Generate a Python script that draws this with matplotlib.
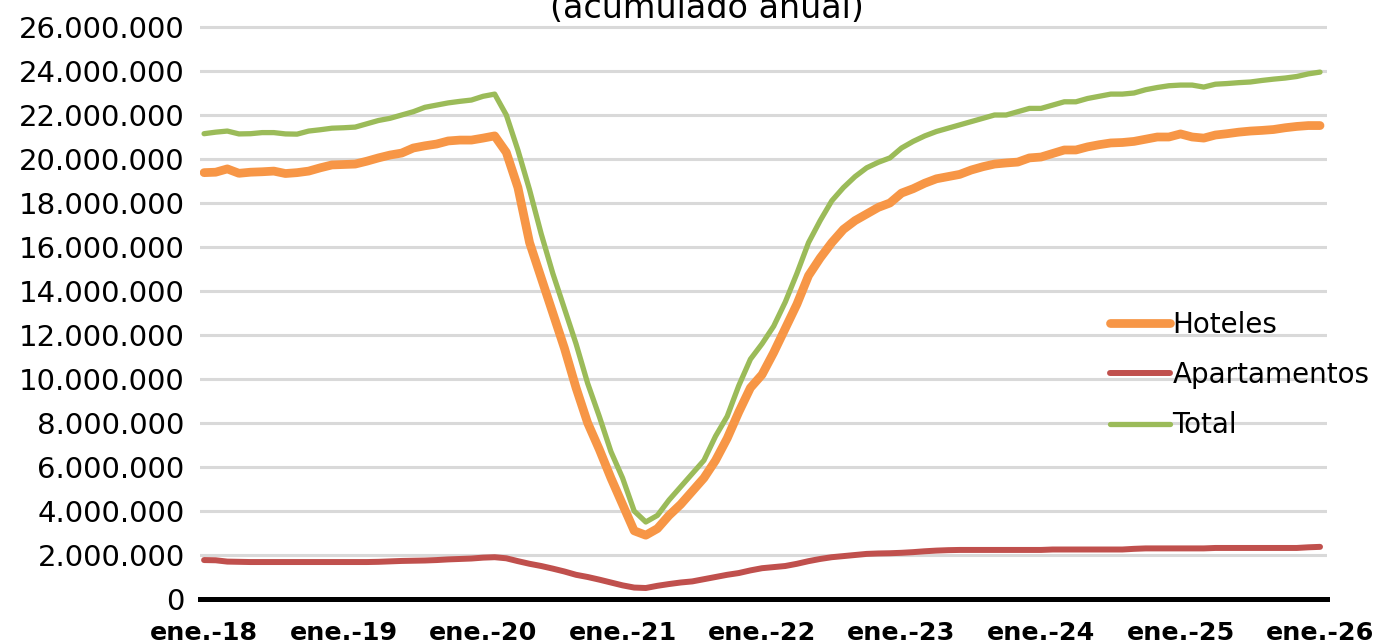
import matplotlib
matplotlib.use("Agg")
import matplotlib.pyplot as plt
import numpy as np

# Monthly annual-accumulated values, ene-18 ... ene-26 (millions)
hoteles = [
    19.38, 19.40, 19.55, 19.35, 19.40, 19.42, 19.45, 19.34, 19.38, 19.45, 19.60, 19.73,
    19.75, 19.77, 19.90, 20.05, 20.18, 20.27, 20.50, 20.60, 20.68, 20.82, 20.86, 20.86,
    20.95, 21.05, 20.30, 18.70, 16.20, 14.60, 13.00, 11.40, 9.60, 8.00, 6.80, 5.50,
    4.30, 3.10, 2.90, 3.20, 3.80, 4.30, 4.90, 5.50, 6.30, 7.30, 8.50, 9.60,
    10.20, 11.20, 12.30, 13.40, 14.70, 15.50, 16.20, 16.80, 17.20, 17.50, 17.80, 18.00,
    18.45, 18.65, 18.90, 19.10, 19.20, 19.30, 19.50, 19.65, 19.77, 19.82, 19.86, 20.05,
    20.09, 20.25, 20.41, 20.41, 20.55, 20.65, 20.73, 20.75, 20.80, 20.90, 21.00, 21.00,
    21.14, 21.00, 20.95, 21.09, 21.15, 21.22, 21.27, 21.30, 21.34, 21.42, 21.48, 21.52,
    21.52,
]
apartamentos = [
    1.77, 1.76, 1.70, 1.69, 1.68, 1.68, 1.68, 1.68, 1.68, 1.68, 1.68, 1.68,
    1.68, 1.68, 1.68, 1.69, 1.71, 1.73, 1.74, 1.75, 1.77, 1.80, 1.82, 1.84,
    1.88, 1.90, 1.85, 1.72, 1.60, 1.50, 1.38, 1.25, 1.10, 1.00, 0.88, 0.75,
    0.62, 0.52, 0.50, 0.60, 0.68, 0.75, 0.80, 0.90, 1.00, 1.10, 1.18, 1.30,
    1.40, 1.45, 1.50, 1.60, 1.72, 1.82, 1.90, 1.95, 2.00, 2.05, 2.07, 2.08,
    2.10, 2.13, 2.17, 2.20, 2.22, 2.23, 2.23, 2.23, 2.23, 2.23, 2.23, 2.23,
    2.23, 2.25, 2.25, 2.25, 2.25, 2.25, 2.25, 2.25, 2.28, 2.30, 2.30, 2.30,
    2.30, 2.30, 2.30, 2.32, 2.32, 2.32, 2.32, 2.32, 2.32, 2.32, 2.32, 2.35,
    2.37,
]
total = [
    21.15, 21.22, 21.27, 21.14, 21.15, 21.20, 21.20, 21.14, 21.13, 21.27, 21.33, 21.40,
    21.42, 21.45, 21.60, 21.75, 21.85, 22.00, 22.15, 22.35, 22.45, 22.55, 22.62, 22.68,
    22.85, 22.95, 22.00, 20.40, 18.60, 16.60, 14.80, 13.20, 11.60, 9.80, 8.30, 6.70,
    5.50, 4.00, 3.50, 3.80, 4.50, 5.10, 5.70, 6.30, 7.40, 8.30, 9.70, 10.90,
    11.60, 12.40, 13.50, 14.80, 16.20, 17.20, 18.10, 18.70, 19.20, 19.60, 19.85, 20.05,
    20.50, 20.80, 21.05, 21.25, 21.40, 21.55, 21.70, 21.85, 22.00, 22.00, 22.15, 22.30,
    22.30, 22.45, 22.60, 22.60, 22.75, 22.85, 22.95, 22.95, 23.00, 23.15, 23.25, 23.33,
    23.36, 23.36, 23.27, 23.40, 23.43, 23.47, 23.50, 23.57, 23.63, 23.68, 23.75, 23.87,
    23.95,
]
x_labels = ["ene.-18", "ene.-19", "ene.-20", "ene.-21", "ene.-22",
            "ene.-23", "ene.-24", "ene.-25", "ene.-26"]
y_ticks = [0, 2e6, 4e6, 6e6, 8e6, 10e6, 12e6, 14e6, 16e6, 18e6, 20e6, 22e6, 24e6, 26e6]
title = "(acumulado anual)"

plt.rcParams['font.family'] = ['DejaVu Sans']

W, H = 1377, 644
fig = plt.figure(figsize=(W / 100, H / 100), dpi=100)
top_px = 27 - 0.2 * 22
ax = fig.add_axes([200 / W, (H - 599) / H, (1327 - 200) / W, (599 - top_px) / H])

n = len(hoteles)
x = np.arange(n)
mil = 1e6
ax.plot(x, np.array(hoteles) * mil, color="#F79646", lw=6.3, label="Hoteles",
        solid_joinstyle="round", solid_capstyle="round", zorder=3)
ax.plot(x, np.array(apartamentos) * mil, color="#C0504D", lw=4.3, label="Apartamentos",
        solid_joinstyle="round", solid_capstyle="round", zorder=3)
ax.plot(x, np.array(total) * mil, color="#9BBB59", lw=3.8, label="Total",
        solid_joinstyle="round", solid_capstyle="round", zorder=4)

ax.set_xlim(-0.35, 96.6)
ax.set_ylim(0, 26.2e6)
ax.set_yticks(y_ticks)
ax.set_yticklabels([f"{int(v):,}".replace(",", ".") for v in y_ticks])
ax.set_xticks(np.arange(0, n, 12))
ax.set_xticklabels(x_labels, fontweight="bold")
ax.tick_params(axis="y", length=0, pad=11, labelsize=21)
ax.tick_params(axis="x", length=0, pad=16, labelsize=18.3)
ax.grid(axis="y", color="#D9D9D9", lw=2.2, zorder=0)
ax.set_axisbelow(True)
for s in ["left", "right", "top"]:
    ax.spines[s].set_visible(False)
ax.spines["bottom"].set_color("black")
ax.spines["bottom"].set_linewidth(3.6)
ax.spines["bottom"].set_zorder(5)

leg = ax.legend(loc="center left", bbox_to_anchor=(1110 / W, 1 - 375 / H),
                bbox_transform=fig.transFigure, frameon=False, fontsize=20,
                handlelength=2.15, handletextpad=0.1, labelspacing=0.8,
                borderpad=0, borderaxespad=0)

fig.text(707 / W, 1 - 18 / H, title, ha="center", va="baseline", fontsize=24)

fig.savefig("out.png", dpi=100)
